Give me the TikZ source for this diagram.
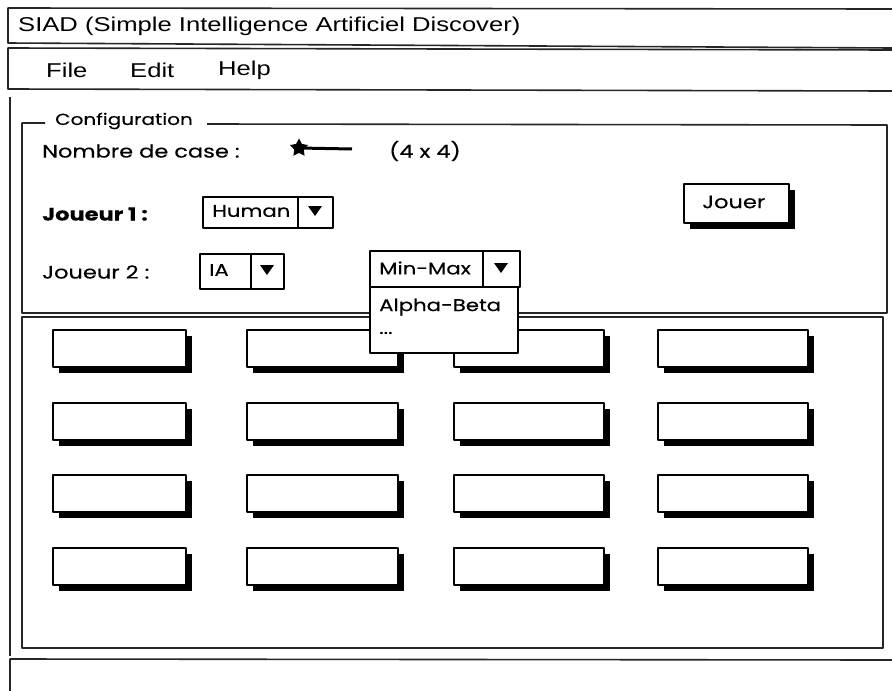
\documentclass[tikz,border=0pt]{standalone}
\usepackage{fontspec}
\setmainfont{Poppins}
\newfontfamily\sysfont[FakeStretch=1.28]{Liberation Sans}
\newfontfamily\uifont[FakeStretch=1.25, FakeBold=0.3]{Poppins}
\usetikzlibrary{shapes.geometric,shadows}

\tikzset{
  frame/.style={line width=1.6pt, draw=black!85},
  systext/.style={font=\sysfont\fontsize{20}{22}\selectfont, anchor=west, inner sep=0pt},
  uitext/.style={font=\uifont\fontsize{18}{20}\selectfont, anchor=west, inner sep=0pt},
  combotext/.style={font=\uifont\fontsize{17}{19}\selectfont, anchor=west, inner sep=0pt},
  cellbox/.style={draw=black, line width=1.6pt, fill=white, anchor=north west,
    inner sep=0pt, minimum height=37pt,
    drop shadow={shadow xshift=6pt, shadow yshift=-6pt, fill=black, opacity=1}},
  combobox/.style={draw=black, line width=1.5pt, fill=white, anchor=north west, inner sep=0pt},
  droparrow/.style={fill=black, draw=none},
}

\begin{document}
\begin{tikzpicture}[x=1pt, y=-1pt, line join=round]
\useasboundingbox (0,0) rectangle (892,691);
\fill[white] (0,0) rectangle (892,691);

% title bar and menu bar
\draw[frame] (892,9) -- (8,8) -- (8,43) -- (892,48);
\node[systext] (title) at (18,26) {SIAD (Simple Intelligence Artificiel Discover)};
\draw[frame] (892,50) -- (8,48) -- (8,89) -- (892,91);
\node[systext] (mfile) at (46,70) {File};
\node[systext] (medit) at (130,70) {Edit};
\node[systext] (mhelp) at (218,70) {Help};

% window border and status bar
\draw[frame] (10,97) -- (10,656);
\draw[frame] (10,691) -- (10,659) -- (892,660);

% configuration group
\node[uitext, font=\uifont\fontsize{16}{18}\selectfont] (cfg) at (55,121) {Configuration};
\draw[frame] (45,123) -- (22,123) -- (22,313) -- (887,313) -- (887,125) -- (207,124);

\node[uitext] (nb) at (42,151) {Nombre de case :};
\node[star, star points=5, star point ratio=1.9, fill=black, inner sep=0pt, minimum size=19pt] (thumb) at (299,148) {};
\coordinate (slend) at (352,149);
\draw[line width=3pt] (thumb.center) -- (slend);
\node[uitext] (size) at (389,151) {(4 x 4)};

\node[uitext, font=\uifont\bfseries\fontsize{18}{20}\selectfont] (j1) at (42,214) {Joueur 1 :};
\node[uitext] (j2) at (42,272) {Joueur 2 :};

% combo: Human
\node[combobox, minimum width=130pt, minimum height=31pt] (cb1) at (202,196) {};
\node[combotext] (cb1t) at (212,211) {Human};
\draw[line width=1.5pt] (298,196) -- (298,227);
\fill[droparrow] (308,206) -- (322,206) -- (315,216) -- cycle;

% combo: IA
\node[combobox, minimum width=84pt, minimum height=35pt] (cb2) at (199,253) {};
\node[combotext] (cb2t) at (209,270) {IA};
\draw[line width=1.5pt] (251,253) -- (251,288);
\fill[droparrow] (260,265) -- (274,265) -- (267,275) -- cycle;

% game board
\draw[frame] (22,317) rectangle (883,648);
\foreach \r/\y in {1/329,2/402,3/474,4/547}{
  \node[cellbox, minimum width=133pt] (c\r-1) at (52,\y) {};
  \node[cellbox, minimum width=151pt] (c\r-2) at (246,\y) {};
  \node[cellbox, minimum width=150pt] (c\r-3) at (453,\y) {};
  \node[cellbox, minimum width=150pt] (c\r-4) at (657,\y) {};
}

% combo: algorithm, opened
\node[combobox, minimum width=148pt, minimum height=66pt] (list) at (369,286) {};
\node[combotext] (ab) at (379,307) {Alpha-Beta};
\node[combotext] (more) at (379,333) {...};
\node[combobox, minimum width=150pt, minimum height=36pt] (cb3) at (369,250) {};
\node[combotext] (cb3t) at (379,268) {Min-Max};
\draw[line width=1.5pt] (483,250) -- (483,286);
\fill[droparrow] (494,263) -- (508,263) -- (501,273) -- cycle;

% play button
\node[cellbox, minimum width=105pt, minimum height=39pt] (play) at (683,183) {};
\node[uitext] (playt) at (702,202) {Jouer};
\end{tikzpicture}
\end{document}
